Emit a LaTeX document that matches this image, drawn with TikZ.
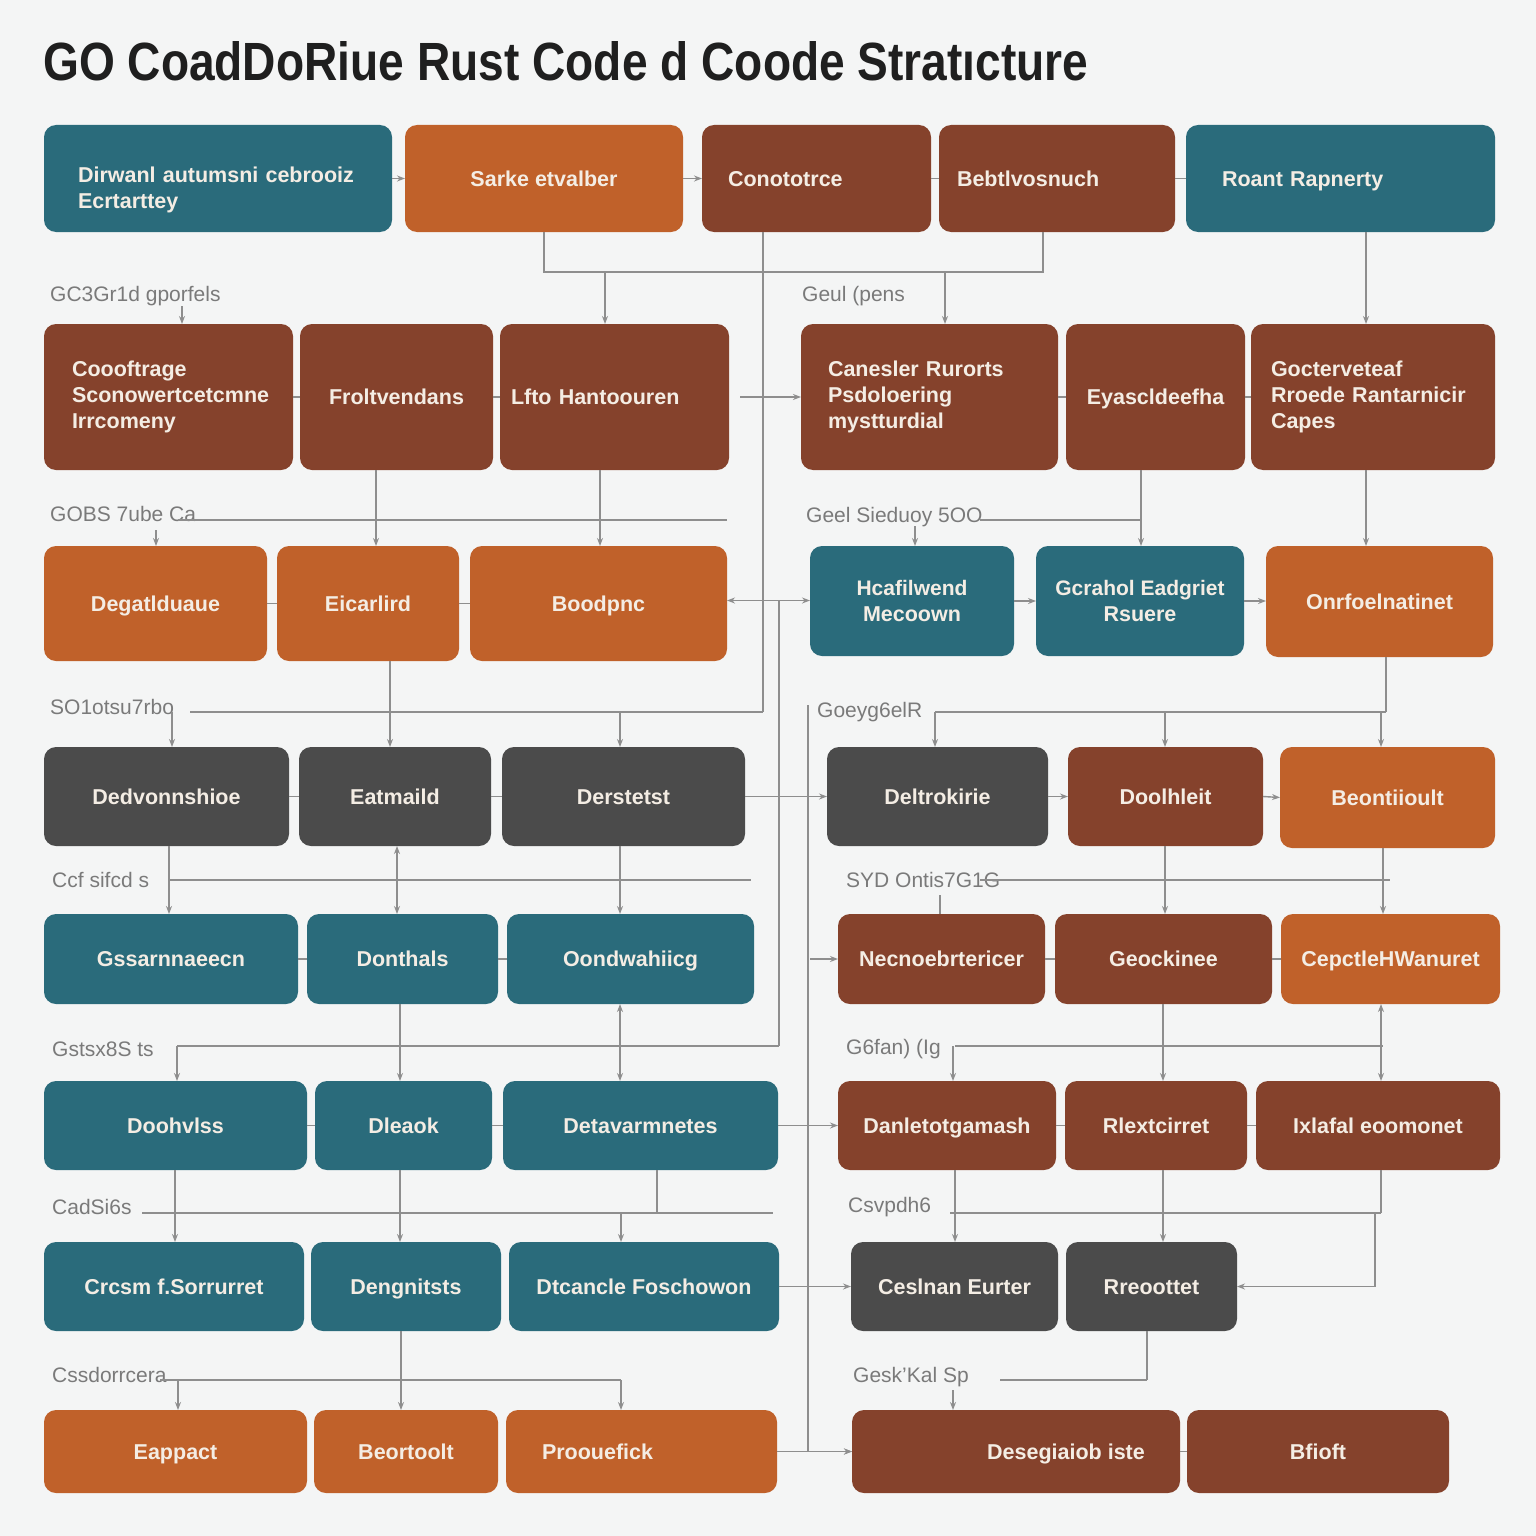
\documentclass[tikz,border=0pt]{standalone}
\usepackage{fontspec}
\setmainfont{Liberation Sans}
\usetikzlibrary{arrows.meta}
\definecolor{bgc}{HTML}{F4F5F5}
\definecolor{colT}{HTML}{2A6B7B}
\definecolor{colO}{HTML}{C0612A}
\definecolor{colB}{HTML}{85422C}
\definecolor{colG}{HTML}{4B4B4B}
\definecolor{boxtxt}{HTML}{F4EDE4}
\definecolor{lncol}{HTML}{8E8E8E}
\definecolor{labcol}{HTML}{7A7A7A}
\tikzset{
  box/.style={rectangle, rounded corners=12pt, draw=none, text=boxtxt,
    font=\fontsize{21.5}{26}\selectfont\bfseries, inner sep=0pt, outer sep=0pt},
  sl/.style={text height=15pt, text depth=0pt},
  ml/.style={text height={}, text depth={}},
  cT/.style={fill=colT}, cO/.style={fill=colO}, cB/.style={fill=colB}, cG/.style={fill=colG},
  ln/.style={draw=lncol, line width=1.4pt},
  arr/.style={ln, -{Stealth[length=8pt,width=6pt]}},
  darr/.style={ln, {Stealth[length=8pt,width=6pt]}-{Stealth[length=8pt,width=6pt]}},
  lab/.style={text=labcol, font=\fontsize{21}{24}\selectfont, inner sep=0pt, anchor=base west}
}
\newcommand\bxc[7]{\node[box,sl,#6,minimum width={(#4-#2)*1pt},minimum height={(#5-#3)*1pt},align=center] (#1) at ({(#2+#4)/2},{(#3+#5)/2}) {#7};}
\newcommand\bxl[8]{\pgfmathsetmacro\mytw{#4-#2-2*#7}\node[box,sl,#6,text width=\mytw pt,inner xsep=#7pt,minimum height={(#5-#3)*1pt},align=left] (#1) at ({(#2+#4)/2},{(#3+#5)/2}) {#8};}
\begin{document}
\begin{tikzpicture}[x=1pt,y=-1pt]
\fill[bgc] (0,0) rectangle (1536,1536);
\useasboundingbox (0,0) rectangle (1536,1536);

\node[anchor=base west, inner sep=0pt, text=black!88] (title) at (43,81)
  {\resizebox{1045pt}{39pt}{\bfseries GO CoadDoRiue Rust Code d Coode Stratıcture}};

% ---------- boxes
\bxl{a1}{44}{125}{392}{232}{cT,ml}{34}{\rule{0pt}{39pt}Dirwanl autumsni cebrooiz\\Ecrtarttey}
\bxc{a2}{405}{125}{683}{232}{cO}{Sarke etvalber}
\bxl{a3}{702}{125}{931}{232}{cB}{26}{Conototrce}
\bxl{a4}{939}{125}{1175}{232}{cB}{18}{Bebtlvosnuch}
\bxl{a5}{1186}{125}{1495}{232}{cT}{36}{Roant Rapnerty}

\bxl{b1}{44}{324}{293}{470}{cB,ml}{28}{Coooftrage\\Sconowertcetcmne\\Irrcomeny}
\bxc{b2}{300}{324}{493}{470}{cB}{Froltvendans}
\bxl{b3}{500}{324}{729}{470}{cB}{11}{Lfto Hantoouren}
\bxl{b4}{801}{324}{1058}{470}{cB,ml}{27}{Canesler Rurorts\\Psdoloering\\mystturdial}
\bxc{b5}{1066}{324}{1245}{470}{cB}{Eyascldeefha}
\bxl{b6}{1251}{324}{1495}{470}{cB,ml}{20}{Gocterveteaf\\Rroede Rantarnicir\\Capes}

\bxc{c1}{44}{546}{267}{661}{cO}{Degatlduaue}
\bxc{c2}{277}{546}{459}{661}{cO}{Eicarlird}
\bxc{c3}{470}{546}{727}{661}{cO}{Boodpnc}
\bxc{c4}{810}{546}{1014}{656}{cT,ml}{\fontsize{21}{24}\selectfont Hcafilwend\\Mecoown}
\bxc{c5}{1036}{546}{1244}{656}{cT,ml}{\fontsize{21}{24}\selectfont Gcrahol Eadgriet\\Rsuere}
\bxc{c6}{1266}{546}{1493}{657}{cO}{Onrfoelnatinet}

\bxc{d1}{44}{747}{289}{846}{cG}{Dedvonnshioe}
\bxc{d2}{299}{747}{491}{846}{cG}{Eatmaild}
\bxc{d3}{502}{747}{745}{846}{cG}{Derstetst}
\bxc{d4}{827}{747}{1048}{846}{cG}{Deltrokirie}
\bxc{d5}{1068}{747}{1263}{846}{cB}{Doolhleit}
\bxc{d6}{1280}{747}{1495}{848}{cO}{Beontiioult}

\bxc{e1}{44}{914}{298}{1004}{cT}{Gssarnnaeecn}
\bxc{e2}{307}{914}{498}{1004}{cT}{Donthals}
\bxc{e3}{507}{914}{754}{1004}{cT}{Oondwahiicg}
\bxc{e4}{838}{914}{1045}{1004}{cB}{Necnoebrtericer}
\bxc{e5}{1055}{914}{1272}{1004}{cB}{Geockinee}
\bxc{e6}{1281}{914}{1500}{1004}{cO}{CepctleHWanuret}

\bxc{f1}{44}{1081}{307}{1170}{cT}{Doohvlss}
\bxc{f2}{315}{1081}{492}{1170}{cT}{Dleaok}
\bxc{f3}{503}{1081}{778}{1170}{cT}{Detavarmnetes}
\bxc{f4}{838}{1081}{1056}{1170}{cB}{Danletotgamash}
\bxc{f5}{1065}{1081}{1247}{1170}{cB}{Rlextcirret}
\bxc{f6}{1256}{1081}{1500}{1170}{cB}{Ixlafal eoomonet}

\bxc{g1}{44}{1242}{304}{1331}{cT}{Crcsm f.Sorrurret}
\bxc{g2}{311}{1242}{501}{1331}{cT}{Dengnitsts}
\bxc{g3}{509}{1242}{779}{1331}{cT}{Dtcancle Foschowon}
\bxc{g4}{851}{1242}{1058}{1331}{cG}{Ceslnan Eurter}
\bxc{g5}{1066}{1242}{1237}{1331}{cG}{Rreoottet}

\bxc{h1}{44}{1410}{307}{1493}{cO}{Eappact}
\bxc{h2}{314}{1410}{498}{1493}{cO}{Beortoolt}
\bxl{h3}{506}{1410}{777}{1493}{cO}{36}{Proouefick}
\bxc{h4}{852}{1410}{1180}{1493}{cB}{\hspace*{100pt}Desegiaiob iste}
\bxc{h5}{1187}{1410}{1449}{1493}{cB}{Bfioft}

% ---------- labels
\node[lab] (l1) at (50,301) {GC3Gr1d gporfels};
\node[lab] (l2) at (802,301) {Geul (pens};
\node[lab] (l3) at (50,521) {GOBS 7ube Ca};
\node[lab] (l4) at (806,522) {Geel Sieduoy 5OO};
\node[lab] (l5) at (50,714) {SO1otsu7rbo};
\node[lab] (l6) at (817,717) {Goeyg6elR};
\node[lab] (l7) at (52,887) {Ccf sifcd s};
\node[lab] (l8) at (846,887) {SYD Ontis7G1G};
\node[lab] (l9) at (52,1056) {Gstsx8S ts};
\node[lab] (l10) at (846,1054) {G6fan) (Ig};
\node[lab] (l11) at (52,1214) {CadSi6s};
\node[lab] (l12) at (848,1212) {Csvpdh6};
\node[lab] (l13) at (52,1382) {Cssdorrcera};
\node[lab] (l14) at (853,1382) {Gesk'Kal Sp};

% ---------- bus coordinates
\coordinate (s3) at (178,520);  \coordinate (e3b) at (727,520);
\coordinate (s4) at (980,520);  \coordinate (e4b) at (1142,520);
\coordinate (s5) at (190,712);  \coordinate (e5b) at (763,712);
\coordinate (s6) at (935,712);  \coordinate (e6b) at (1386,712);
\coordinate (s7) at (170,880);  \coordinate (e7b) at (751,880);
\coordinate (s8) at (980,880);  \coordinate (e8b) at (1390,880);
\coordinate (s9) at (177,1046); \coordinate (e9b) at (779,1046);
\coordinate (s10) at (955,1046); \coordinate (e10b) at (1383,1046);
\coordinate (s11) at (142,1213); \coordinate (e11b) at (773,1213);
\coordinate (s12) at (950,1213); \coordinate (e12b) at (1381,1213);
\coordinate (s13) at (160,1380); \coordinate (e13b) at (621,1380);
\coordinate (s14) at (1000,1380); \coordinate (e14b) at (1147,1380);
\coordinate (v808) at (808,705);
\foreach \n in {3,...,14} {\draw[ln] (s\n) -- (e\n b);}

% ---------- row 1
\draw[arr] (a1.east) -- (a2.west);
\draw[arr] (a2.east) -- (a3.west);
\draw[ln] (a3.east) -- (a4.west);
\draw[ln] (a4.east) -- (a5.west);
\draw[ln] (a2.south) -- ++(0,40) -| ([xshift=-14pt]a4.south);
\draw[arr] ([xshift=-9.5pt,yshift=52pt]b3.north) -- ([xshift=-9.5pt]b3.north);
\draw[arr] ([xshift=15.5pt,yshift=52pt]b4.north) -- ([xshift=15.5pt]b4.north);
\draw[ln] ([xshift=-53.5pt]a3.south) -- (e5b);
\draw[arr] ([xshift=25.5pt]a5.south) -- ([xshift=-7pt]b6.north);
\draw[arr] ([xshift=13.5pt,yshift=18pt]b1.north) -- ([xshift=13.5pt]b1.north);

% ---------- row 2
\draw[ln] (b1.east) -- (b2.west);
\draw[ln] (b2.east) -- (b3.west);
\draw[arr] ([xshift=11pt]b3.east) -- (b4.west);
\draw[ln] (b4.east) -- (b5.west);
\draw[ln] (b5.east) -- (b6.west);
\draw[arr] ([xshift=-20.5pt]b2.south) -- ([xshift=8pt]c2.north);
\draw[arr] ([xshift=-14.5pt]b3.south) -- ([xshift=1.5pt]c3.north);
\draw[arr] ([xshift=-14.5pt]b5.south) -- ([xshift=1pt]c5.north);
\draw[arr] ([xshift=-7pt]b6.south) -- ([xshift=-13.5pt]c6.north);
\draw[arr] ([xshift=0.5pt,yshift=16pt]c1.north) -- ([xshift=0.5pt]c1.north);
\draw[arr] ([xshift=3pt,yshift=20pt]c4.north) -- ([xshift=3pt]c4.north);

% ---------- row 3
\draw[ln] (c1.east) -- (c2.west);
\draw[ln] (c2.east) -- (c3.west);
\draw[darr] ([yshift=3pt]c3.east) -- ([yshift=3pt]c3.east -| c4.west);
\draw[arr] (c4.east) -- (c5.west);
\draw[arr] (c5.east) -- (c5.east -| c6.west);
\draw[ln] ([xshift=52pt,yshift=3.5pt]c3.east) -- (e9b);
\draw[arr] ([xshift=22pt]c2.south) -- ([xshift=-5pt]d2.north);
\draw[ln] ([xshift=6.5pt]c6.south) -- (e6b);
\draw[arr] ([xshift=5.5pt,yshift=35pt]d1.north) -- ([xshift=5.5pt]d1.north);
\draw[arr] ([xshift=-3.5pt,yshift=35pt]d3.north) -- ([xshift=-3.5pt]d3.north);
\draw[arr] ([xshift=-2.5pt,yshift=35pt]d4.north) -- ([xshift=-2.5pt]d4.north);
\draw[arr] ([xshift=-0.5pt,yshift=35pt]d5.north) -- ([xshift=-0.5pt]d5.north);
\draw[arr] ([xshift=-6.5pt,yshift=35pt]d6.north) -- ([xshift=-6.5pt]d6.north);
\draw[arr] (v808) |- (h4.west);

% ---------- row 4
\draw[ln] (d1.east) -- (d2.west);
\draw[ln] (d2.east) -- (d3.west);
\draw[arr] (d3.east) -- (d4.west);
\draw[arr] (d4.east) -- (d5.west);
\draw[arr] (d5.east) -- (d6.west);
\draw[arr] ([xshift=2.5pt]d1.south) -- ([xshift=-2pt]e1.north);
\draw[darr] ([xshift=2pt]d2.south) -- ([xshift=-5.5pt]e2.north);
\draw[arr] ([xshift=-3.5pt]d3.south) -- ([xshift=-10.5pt]e3.north);
\draw[arr] ([xshift=-0.5pt]d5.south) -- ([xshift=1.5pt]e5.north);
\draw[arr] ([xshift=-4.5pt]d6.south) -- ([xshift=-7.5pt]e6.north);
\draw[ln] ([xshift=-1.5pt,yshift=19pt]e4.north) -- ([xshift=-1.5pt]e4.north);

% ---------- row 5
\draw[ln] (e1.east) -- (e2.west);
\draw[ln] (e2.east) -- (e3.west);
\draw[arr] ([xshift=-28pt]e4.west) -- (e4.west);
\draw[ln] (e4.east) -- (e5.west);
\draw[ln] (e5.east) -- (e6.west);
\draw[arr] ([xshift=-2.5pt]e2.south) -- ([xshift=-3.5pt]f2.north);
\draw[darr] ([xshift=-10.5pt]e3.south) -- ([xshift=-20.5pt]f3.north);
\draw[arr] ([xshift=-0.5pt]e5.south) -- ([xshift=7pt]f5.north);
\draw[darr] ([xshift=-9.5pt]e6.south) -- ([xshift=3pt]f6.north);
\draw[arr] ([xshift=1.5pt,yshift=35pt]f1.north) -- ([xshift=1.5pt]f1.north);
\draw[arr] ([xshift=6pt,yshift=35pt]f4.north) -- ([xshift=6pt]f4.north);

% ---------- row 6
\draw[ln] (f1.east) -- (f2.west);
\draw[ln] (f2.east) -- (f3.west);
\draw[arr] (f3.east) -- (f4.west);
\draw[ln] (f4.east) -- (f5.west);
\draw[ln] (f5.east) -- (f6.west);
\draw[arr] ([xshift=-0.5pt]f1.south) -- ([xshift=1pt]g1.north);
\draw[arr] ([xshift=-3.5pt]f2.south) -- ([xshift=-6pt]g2.north);
\draw[ln] ([xshift=16.5pt]f3.south) -- ++(0,43);
\draw[arr] ([xshift=-23pt,yshift=29pt]g3.north) -- ([xshift=-23pt]g3.north);
\draw[ln] ([xshift=3pt]f6.south) -- (e12b);
\draw[arr] ([xshift=8pt]f4.south) -- ([xshift=0.5pt]g4.north);
\draw[arr] ([xshift=7pt]f5.south) -- ([xshift=11.5pt]g5.north);
\draw[arr] ([xshift=-3pt,yshift=-43pt]f6.south) |- (g5.east);

% ---------- row 7
\draw[arr] (g3.east) -- (g4.west);
\draw[arr] ([xshift=-5pt]g2.south) -- ([xshift=-5pt]h2.north);
\draw[arr] ([xshift=2.5pt,yshift=30pt]h1.north) -- ([xshift=2.5pt]h1.north);
\draw[arr] ([xshift=-20.5pt,yshift=30pt]h3.north) -- ([xshift=-20.5pt]h3.north);
\draw[ln] ([xshift=-4.5pt]g5.south) -- (e14b);
\draw[arr] ([xshift=-63pt,yshift=20pt]h4.north) -- ([xshift=-63pt]h4.north);

% ---------- row 8
\draw[arr] (h3.east) -- (h4.west);
\draw[ln] (h4.east) -- (h5.west);
\end{tikzpicture}
\end{document}
